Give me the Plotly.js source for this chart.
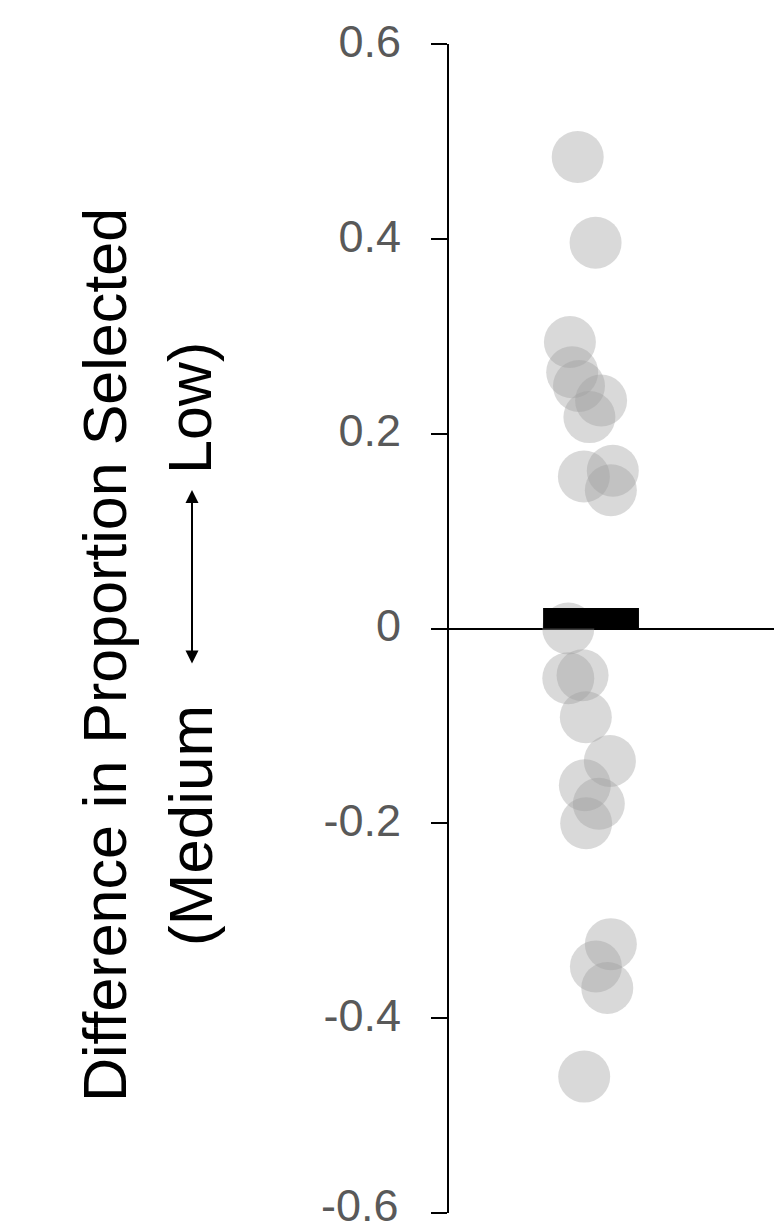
<!DOCTYPE html>
<html>
<head>
<meta charset="utf-8">
<script src="https://cdn.plot.ly/plotly-3.0.1.min.js"></script>
<style>html,body{margin:0;padding:0;background:#fff;}#chart{width:774px;height:1232px;}</style>
</head>
<body>
<div id="chart"></div>
<script>
// Individual differences (Low - Medium) in proportion selected
const pointDiff = [0.484, 0.396, 0.294, 0.263, 0.249, 0.234, 0.217, 0.156, 0.162, 0.142,
                   0.000, -0.051, -0.048, -0.091, -0.136, -0.161, -0.180, -0.200,
                   -0.324, -0.347, -0.369, -0.460];
// horizontal jitter of each point (x units, group centre = 0.437)
const pointJitter = [0.396, 0.451, 0.372, 0.379, 0.400, 0.468, 0.432, 0.415, 0.504, 0.498,
                     0.367, 0.367, 0.411, 0.421, 0.495, 0.418, 0.461, 0.422,
                     0.498, 0.452, 0.487, 0.416];
// mean difference bar
const barCategory = [0.437];
const barMean = [0.021];
// axis ticks
const tickVals = [0.6, 0.4, 0.2, 0, -0.2, -0.4, -0.6];
const tickText = ['0.6', '0.4', '0.2', '0', '-0.2', '-0.4', '-0.6'];

const traces = [
  {
    type: 'scatter', mode: 'markers',
    x: pointJitter, y: pointDiff,
    marker: {size: 52, color: 'rgba(160,160,160,0.4)', line: {width: 0}},
    hoverinfo: 'y', showlegend: false
  },
  {
    type: 'bar', x: barCategory, y: barMean, width: 0.295,
    xaxis: 'x2', yaxis: 'y',
    marker: {color: '#000000', line: {width: 0}},
    hoverinfo: 'y', showlegend: false
  }
];

const font = 'Liberation Sans, Arial, sans-serif';
// the bottom tick label sits against the page edge; draw it as an annotation kept inside the page
const lastIdx = tickText.length - 1;
const shownTickText = tickText.map((t, i) => (i === lastIdx ? '' : t));

const layout = {
  width: 774, height: 1232,
  margin: {l: 449, r: 0, t: 44, b: 19, pad: 0},
  paper_bgcolor: '#ffffff', plot_bgcolor: '#ffffff',
  showlegend: false,
  xaxis: {range: [0, 1], visible: false, fixedrange: true},
  xaxis2: {range: [0, 1], visible: false, fixedrange: true, overlaying: 'x'},
  yaxis: {
    range: [-0.6, 0.6], tickvals: tickVals, ticktext: shownTickText,
    showline: true, linecolor: '#000000', linewidth: 2,
    ticks: 'outside', ticklen: 16, tickwidth: 2, tickcolor: '#000000',
    ticklabelstandoff: 21, ticklabeloverflow: 'allow', ticklabelshift: -3,
    tickfont: {family: font, size: 45, color: '#595959'},
    showgrid: false,
    zeroline: true, zerolinecolor: '#000000', zerolinewidth: 2,
    layer: 'above traces', fixedrange: true
  },
  annotations: [
    {text: tickText[lastIdx], xref: 'paper', yref: 'paper',
     x: (400 - 449) / 325, y: (1213 - 1232) / 1169, xanchor: 'right', yanchor: 'bottom',
     showarrow: false, borderpad: 0,
     font: {family: font, size: 45, color: '#595959'}},
    {text: 'Difference in Proportion Selected', xref: 'paper', yref: 'paper',
     x: (105 - 449) / 325, y: (1213 - 655) / 1169, xanchor: 'center', yanchor: 'middle',
     textangle: -90, showarrow: false,
     font: {family: font, size: 61, color: '#000000'}},
    {text: '(Medium', xref: 'paper', yref: 'paper',
     x: (190 - 449) / 325, y: (1213 - 826) / 1169, xanchor: 'center', yanchor: 'middle',
     textangle: -90, showarrow: false,
     font: {family: font, size: 62, color: '#000000'}},
    {text: 'Low)', xref: 'paper', yref: 'paper',
     x: (190 - 449) / 325, y: (1213 - 408) / 1169, xanchor: 'center', yanchor: 'middle',
     textangle: -90, showarrow: false,
     font: {family: font, size: 61, color: '#000000'}},
    {text: '', xref: 'paper', yref: 'paper',
     x: (192 - 449) / 325, y: (1213 - 490) / 1169,
     axref: 'pixel', ayref: 'pixel', ax: 0, ay: 175,
     showarrow: true, arrowside: 'end+start', arrowhead: 2, arrowsize: 1.3, arrowwidth: 2,
     arrowcolor: '#000000', standoff: 0, startstandoff: 0}
  ]
};

Plotly.newPlot('chart', traces, layout, {staticPlot: true, displayModeBar: false});
</script>
</body>
</html>
